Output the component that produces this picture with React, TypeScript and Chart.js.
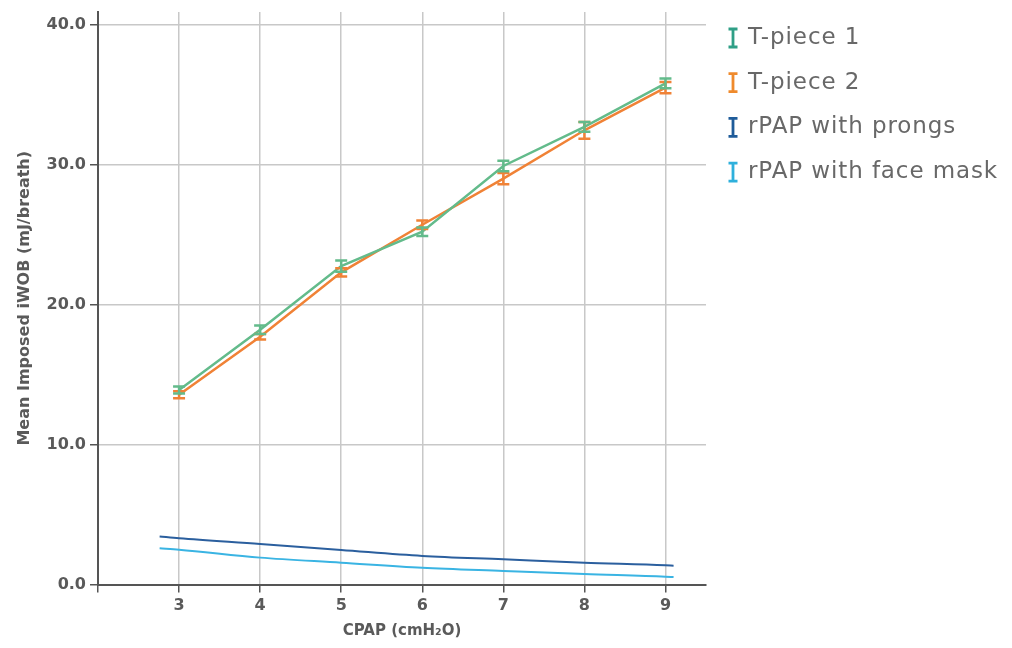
import React, { useEffect, useRef } from "react";
import { Chart, registerables } from "chart.js";

Chart.register(...registerables);

// ---- data ----
const X_TICKS = [2, 3, 4, 5, 6, 7, 8, 9];
const Y_TICKS = [0, 10, 20, 30, 40];
const CPAP = [3, 4, 5, 6, 7, 8, 9];
const T1_MEAN = [13.9, 18.2, 22.75, 25.2, 29.9, 32.7, 35.8];
const T1_ERR = [0.25, 0.3, 0.4, 0.3, 0.38, 0.35, 0.35];
const T2_MEAN = [13.55, 17.7, 22.3, 25.7, 29.0, 32.45, 35.5];
const T2_ERR = [0.25, 0.2, 0.3, 0.3, 0.4, 0.6, 0.4];
const RPAP_X = [2.76, 3, 4, 5, 6, 7, 8, 9, 9.1];
const PRONGS = [3.43, 3.3, 2.9, 2.47, 2.04, 1.8, 1.56, 1.37, 1.34];
const MASK = [2.59, 2.49, 1.92, 1.56, 1.2, 0.97, 0.75, 0.56, 0.53];
const SERIES_LABELS = ["T-piece 1", "T-piece 2", "rPAP with prongs", "rPAP with face mask"];
const LINE_COLORS = ["#63bb8b", "#f08236", "#2b5f9e", "#3ab4e3"];
const LEGEND_COLORS = ["#2f9f86", "#ef8a2c", "#1f5c9a", "#2eb0dc"];
const X_TITLE = "CPAP (cmH\u2082O)";
const Y_TITLE = "Mean Imposed iWOB (mJ/breath)";

const TEXT = "#5a5a5a";
const GRID = "#c8c8c8";
const AXIS = "#555555";

const errorBarPlugin = {
  id: "errorBars",
  afterDatasetsDraw(chart: any) {
    const { ctx } = chart;
    const x = chart.scales.x;
    const y = chart.scales.y;
    for (let i = chart.data.datasets.length - 1; i >= 0; i--) {
      const ds: any = chart.data.datasets[i];
      if (!ds.errors) continue;
      ctx.save();
      ctx.strokeStyle = ds.borderColor;
      ctx.lineWidth = 2.5;
      ds.data.forEach((p: any, j: number) => {
        const e = ds.errors[j];
        const px = x.getPixelForValue(p.x);
        const top = y.getPixelForValue(p.y + e);
        const bot = y.getPixelForValue(p.y - e);
        ctx.beginPath();
        ctx.moveTo(px, top);
        ctx.lineTo(px, bot);
        ctx.moveTo(px - 6, top);
        ctx.lineTo(px + 6, top);
        ctx.moveTo(px - 6, bot);
        ctx.lineTo(px + 6, bot);
        ctx.stroke();
      });
      ctx.restore();
    }
  },
};

const legendPlugin = {
  id: "ibeamLegend",
  afterDraw(chart: any) {
    const { ctx, chartArea } = chart;
    ctx.save();
    SERIES_LABELS.forEach((label, i) => {
      const cy = chartArea.top + 26 + i * 44.7;
      const mx = chartArea.right + 27;
      ctx.strokeStyle = LEGEND_COLORS[i];
      ctx.lineWidth = 2.8;
      ctx.beginPath();
      ctx.moveTo(mx, cy - 9);
      ctx.lineTo(mx, cy + 9);
      ctx.moveTo(mx - 4.5, cy - 9);
      ctx.lineTo(mx + 4.5, cy - 9);
      ctx.moveTo(mx - 4.5, cy + 9);
      ctx.lineTo(mx + 4.5, cy + 9);
      ctx.stroke();
      ctx.fillStyle = "#686868";
      ctx.font = "23px 'DejaVu Sans'";
      try {
        (ctx as any).letterSpacing = "0.9px";
      } catch (e) {}
      ctx.textBaseline = "middle";
      ctx.textAlign = "left";
      ctx.fillText(label, chartArea.right + 42, cy);
    });
    ctx.restore();
  },
};

export default function App() {
  const ref = useRef<HTMLCanvasElement | null>(null);

  useEffect(() => {
    if (!ref.current) return;
    const chart = new Chart(ref.current, {
      type: "line",
      data: {
        datasets: [
          {
            label: SERIES_LABELS[0],
            data: CPAP.map((c, i) => ({ x: c, y: T1_MEAN[i] })),
            errors: T1_ERR,
            borderColor: LINE_COLORS[0],
            borderWidth: 2.5,
            pointRadius: 0,
            tension: 0,
          } as any,
          {
            label: SERIES_LABELS[1],
            data: CPAP.map((c, i) => ({ x: c, y: T2_MEAN[i] })),
            errors: T2_ERR,
            borderColor: LINE_COLORS[1],
            borderWidth: 2.5,
            pointRadius: 0,
            tension: 0,
          } as any,
          {
            label: SERIES_LABELS[2],
            data: RPAP_X.map((c, i) => ({ x: c, y: PRONGS[i] })),
            borderColor: LINE_COLORS[2],
            borderWidth: 2,
            pointRadius: 0,
            cubicInterpolationMode: "monotone",
          },
          {
            label: SERIES_LABELS[3],
            data: RPAP_X.map((c, i) => ({ x: c, y: MASK[i] })),
            borderColor: LINE_COLORS[3],
            borderWidth: 2,
            pointRadius: 0,
            cubicInterpolationMode: "monotone",
          },
        ],
      },
      options: {
        animation: false,
        responsive: true,
        maintainAspectRatio: false,
        layout: { padding: { top: 4, right: 298, left: 0, bottom: 0 } },
        plugins: {
          legend: { display: false },
          tooltip: { enabled: false },
        },
        scales: {
          x: {
            type: "linear",
            min: 2,
            max: 9.5,
            afterBuildTicks: (s: any) => {
              s.ticks = X_TICKS.map((v) => ({ value: v }));
            },
            afterFit: (s: any) => {
              s.height = 55.5;
              s.paddingLeft = 0;
              s.paddingRight = 0;
            },
            border: { color: AXIS, width: 2 },
            grid: {
              color: (c: any) => (c.tick && c.tick.value === 2 ? "rgba(0,0,0,0)" : GRID),
              lineWidth: 1.5,
              tickColor: AXIS,
              tickLength: 8,
              tickWidth: 1.5,
            },
            ticks: {
              padding: 4,
              color: TEXT,
              font: { family: "'DejaVu Sans'", size: 16, weight: "bold" },
              callback: (v: any) => (v === 2 ? "" : String(v)),
            },
            title: {
              display: true,
              text: X_TITLE,
              color: TEXT,
              padding: { top: 0, bottom: 0 },
              font: { family: "'DejaVu Sans'", size: 15, weight: "bold" },
            },
          },
          y: {
            type: "linear",
            min: 0,
            max: 40.9,
            afterBuildTicks: (s: any) => {
              s.ticks = Y_TICKS.map((v) => ({ value: v }));
            },
            afterFit: (s: any) => {
              s.width = 90;
              s.paddingTop = 0;
              s.paddingBottom = 0;
            },
            border: { color: AXIS, width: 2 },
            grid: {
              color: (c: any) => (c.tick && c.tick.value === 0 ? "rgba(0,0,0,0)" : GRID),
              lineWidth: 1.5,
              tickColor: AXIS,
              tickLength: 8,
              tickWidth: 1.5,
            },
            ticks: {
              padding: 4,
              color: TEXT,
              font: { family: "'DejaVu Sans'", size: 16, weight: "bold" },
              callback: (v: any) => Number(v).toFixed(1),
            },
            title: {
              display: true,
              text: Y_TITLE,
              color: TEXT,
              padding: { top: 7, bottom: 0 },
              font: { family: "'DejaVu Sans'", size: 16, weight: "bold" },
            },
          },
        },
      } as any,
      plugins: [errorBarPlugin, legendPlugin],
    });
    return () => chart.destroy();
  }, []);

  return (
    <div style={{ width: 996, height: 632, position: "relative" }}>
      <canvas ref={ref} />
    </div>
  );
}
